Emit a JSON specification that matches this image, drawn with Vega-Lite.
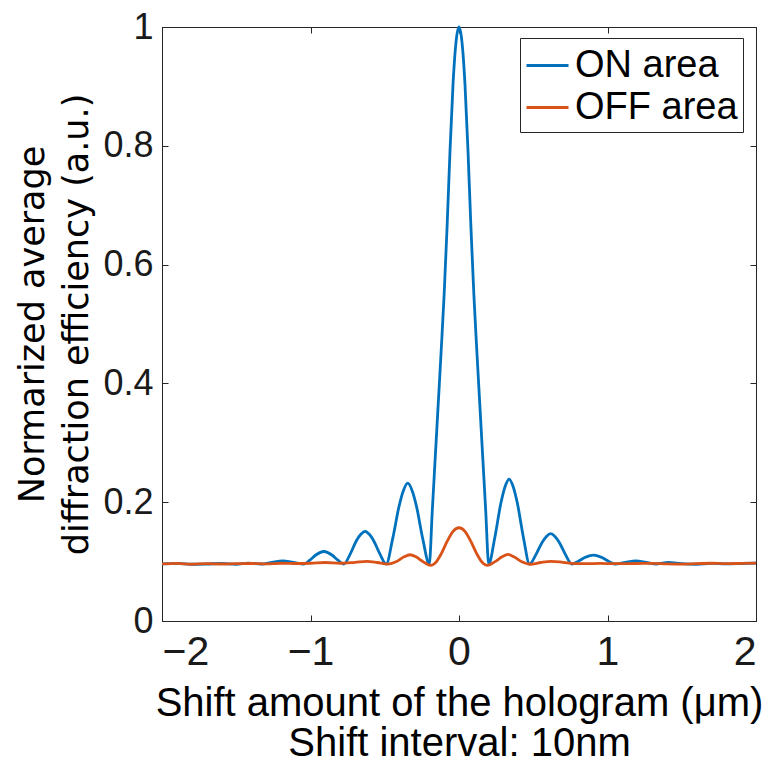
{
  "$schema": "https://vega.github.io/schema/vega-lite/v6.json",
  "width": 594,
  "height": 594,
  "autosize": "none",
  "padding": {"left": 162, "top": 27, "right": 18, "bottom": 141},
  "background": "white",
  "config": {
    "view": {"stroke": "#262626", "strokeWidth": 1},
    "axis": {
      "grid": false,
      "domainColor": "#262626",
      "domainWidth": 1,
      "tickColor": "#262626",
      "tickWidth": 1,
      "tickSize": -6,
      "labelColor": "#1a1a1a",
      "titleColor": "#000000",
      "titleFontWeight": "normal"
    }
  },
  "datasets": {
    "curves": [
      {"x": -2.0, "y": 0.096, "series": "ON area"},
      {"x": -1.9, "y": 0.097, "series": "ON area"},
      {"x": -1.8, "y": 0.0955, "series": "ON area"},
      {"x": -1.7, "y": 0.096, "series": "ON area"},
      {"x": -1.6, "y": 0.0968, "series": "ON area"},
      {"x": -1.5, "y": 0.0955, "series": "ON area"},
      {"x": -1.42, "y": 0.0975, "series": "ON area"},
      {"x": -1.33, "y": 0.096, "series": "ON area"},
      {"x": -1.259, "y": 0.0988, "series": "ON area"},
      {"x": -1.1875, "y": 0.101, "series": "ON area"},
      {"x": -1.116, "y": 0.0988, "series": "ON area"},
      {"x": -1.045, "y": 0.096, "series": "ON area"},
      {"x": -1.0045, "y": 0.1025, "series": "ON area"},
      {"x": -0.964, "y": 0.1111, "series": "ON area"},
      {"x": -0.937, "y": 0.1151, "series": "ON area"},
      {"x": -0.91, "y": 0.117, "series": "ON area"},
      {"x": -0.883, "y": 0.1151, "series": "ON area"},
      {"x": -0.856, "y": 0.1111, "series": "ON area"},
      {"x": -0.8155, "y": 0.1025, "series": "ON area"},
      {"x": -0.775, "y": 0.096, "series": "ON area"},
      {"x": -0.732, "y": 0.113, "series": "ON area"},
      {"x": -0.69, "y": 0.1356, "series": "ON area"},
      {"x": -0.661, "y": 0.146, "series": "ON area"},
      {"x": -0.6325, "y": 0.151, "series": "ON area"},
      {"x": -0.604, "y": 0.146, "series": "ON area"},
      {"x": -0.5755, "y": 0.1356, "series": "ON area"},
      {"x": -0.533, "y": 0.113, "series": "ON area"},
      {"x": -0.49, "y": 0.096, "series": "ON area"},
      {"x": -0.447, "y": 0.1382, "series": "ON area"},
      {"x": -0.403, "y": 0.1939, "series": "ON area"},
      {"x": -0.374, "y": 0.2198, "series": "ON area"},
      {"x": -0.345, "y": 0.232, "series": "ON area"},
      {"x": -0.316, "y": 0.2198, "series": "ON area"},
      {"x": -0.287, "y": 0.1939, "series": "ON area"},
      {"x": -0.244, "y": 0.1382, "series": "ON area"},
      {"x": -0.2, "y": 0.096, "series": "ON area"},
      {"x": -0.18, "y": 0.185, "series": "ON area"},
      {"x": -0.16, "y": 0.275, "series": "ON area"},
      {"x": -0.14, "y": 0.365, "series": "ON area"},
      {"x": -0.12, "y": 0.455, "series": "ON area"},
      {"x": -0.1, "y": 0.55, "series": "ON area"},
      {"x": -0.08, "y": 0.665, "series": "ON area"},
      {"x": -0.06, "y": 0.795, "series": "ON area"},
      {"x": -0.04, "y": 0.905, "series": "ON area"},
      {"x": -0.02, "y": 0.975, "series": "ON area"},
      {"x": 0.0, "y": 1.0, "series": "ON area"},
      {"x": 0.02, "y": 0.975, "series": "ON area"},
      {"x": 0.04, "y": 0.905, "series": "ON area"},
      {"x": 0.06, "y": 0.795, "series": "ON area"},
      {"x": 0.08, "y": 0.665, "series": "ON area"},
      {"x": 0.1, "y": 0.55, "series": "ON area"},
      {"x": 0.12, "y": 0.455, "series": "ON area"},
      {"x": 0.14, "y": 0.365, "series": "ON area"},
      {"x": 0.16, "y": 0.275, "series": "ON area"},
      {"x": 0.18, "y": 0.185, "series": "ON area"},
      {"x": 0.2, "y": 0.096, "series": "ON area"},
      {"x": 0.241, "y": 0.1403, "series": "ON area"},
      {"x": 0.2825, "y": 0.199, "series": "ON area"},
      {"x": 0.31, "y": 0.2261, "series": "ON area"},
      {"x": 0.3375, "y": 0.239, "series": "ON area"},
      {"x": 0.365, "y": 0.2261, "series": "ON area"},
      {"x": 0.3925, "y": 0.199, "series": "ON area"},
      {"x": 0.434, "y": 0.1403, "series": "ON area"},
      {"x": 0.475, "y": 0.096, "series": "ON area"},
      {"x": 0.518, "y": 0.1118, "series": "ON area"},
      {"x": 0.5605, "y": 0.1327, "series": "ON area"},
      {"x": 0.589, "y": 0.1424, "series": "ON area"},
      {"x": 0.6175, "y": 0.147, "series": "ON area"},
      {"x": 0.646, "y": 0.1424, "series": "ON area"},
      {"x": 0.6745, "y": 0.1327, "series": "ON area"},
      {"x": 0.717, "y": 0.1118, "series": "ON area"},
      {"x": 0.76, "y": 0.096, "series": "ON area"},
      {"x": 0.8035, "y": 0.1007, "series": "ON area"},
      {"x": 0.847, "y": 0.1068, "series": "ON area"},
      {"x": 0.876, "y": 0.1097, "series": "ON area"},
      {"x": 0.905, "y": 0.111, "series": "ON area"},
      {"x": 0.934, "y": 0.1097, "series": "ON area"},
      {"x": 0.963, "y": 0.1068, "series": "ON area"},
      {"x": 1.0065, "y": 0.1007, "series": "ON area"},
      {"x": 1.05, "y": 0.096, "series": "ON area"},
      {"x": 1.12, "y": 0.0988, "series": "ON area"},
      {"x": 1.19, "y": 0.101, "series": "ON area"},
      {"x": 1.26, "y": 0.0988, "series": "ON area"},
      {"x": 1.33, "y": 0.096, "series": "ON area"},
      {"x": 1.41, "y": 0.0985, "series": "ON area"},
      {"x": 1.5, "y": 0.0965, "series": "ON area"},
      {"x": 1.6, "y": 0.0955, "series": "ON area"},
      {"x": 1.7, "y": 0.097, "series": "ON area"},
      {"x": 1.8, "y": 0.0962, "series": "ON area"},
      {"x": 1.9, "y": 0.0968, "series": "ON area"},
      {"x": 2.0, "y": 0.0975, "series": "ON area"},
      {"x": -2.0, "y": 0.096, "series": "OFF area"},
      {"x": -1.9, "y": 0.097, "series": "OFF area"},
      {"x": -1.8, "y": 0.0955, "series": "OFF area"},
      {"x": -1.7, "y": 0.0965, "series": "OFF area"},
      {"x": -1.6, "y": 0.096, "series": "OFF area"},
      {"x": -1.5, "y": 0.0965, "series": "OFF area"},
      {"x": -1.4, "y": 0.0968, "series": "OFF area"},
      {"x": -1.3, "y": 0.0962, "series": "OFF area"},
      {"x": -1.2, "y": 0.0972, "series": "OFF area"},
      {"x": -1.1, "y": 0.0968, "series": "OFF area"},
      {"x": -1.0, "y": 0.0972, "series": "OFF area"},
      {"x": -0.9, "y": 0.0985, "series": "OFF area"},
      {"x": -0.8, "y": 0.0972, "series": "OFF area"},
      {"x": -0.7, "y": 0.0988, "series": "OFF area"},
      {"x": -0.62, "y": 0.1005, "series": "OFF area"},
      {"x": -0.55, "y": 0.0985, "series": "OFF area"},
      {"x": -0.48, "y": 0.0958, "series": "OFF area"},
      {"x": -0.42, "y": 0.1, "series": "OFF area"},
      {"x": -0.37, "y": 0.108, "series": "OFF area"},
      {"x": -0.33, "y": 0.1115, "series": "OFF area"},
      {"x": -0.29, "y": 0.108, "series": "OFF area"},
      {"x": -0.24, "y": 0.0995, "series": "OFF area"},
      {"x": -0.19, "y": 0.0935, "series": "OFF area"},
      {"x": -0.16, "y": 0.0975, "series": "OFF area"},
      {"x": -0.12, "y": 0.113, "series": "OFF area"},
      {"x": -0.08, "y": 0.134, "series": "OFF area"},
      {"x": -0.04, "y": 0.151, "series": "OFF area"},
      {"x": 0.0, "y": 0.157, "series": "OFF area"},
      {"x": 0.04, "y": 0.151, "series": "OFF area"},
      {"x": 0.08, "y": 0.134, "series": "OFF area"},
      {"x": 0.12, "y": 0.113, "series": "OFF area"},
      {"x": 0.16, "y": 0.0975, "series": "OFF area"},
      {"x": 0.19, "y": 0.0935, "series": "OFF area"},
      {"x": 0.24, "y": 0.0995, "series": "OFF area"},
      {"x": 0.29, "y": 0.108, "series": "OFF area"},
      {"x": 0.33, "y": 0.112, "series": "OFF area"},
      {"x": 0.37, "y": 0.108, "series": "OFF area"},
      {"x": 0.42, "y": 0.1, "series": "OFF area"},
      {"x": 0.48, "y": 0.0955, "series": "OFF area"},
      {"x": 0.55, "y": 0.0985, "series": "OFF area"},
      {"x": 0.62, "y": 0.1005, "series": "OFF area"},
      {"x": 0.7, "y": 0.0988, "series": "OFF area"},
      {"x": 0.78, "y": 0.0965, "series": "OFF area"},
      {"x": 0.86, "y": 0.0965, "series": "OFF area"},
      {"x": 0.95, "y": 0.097, "series": "OFF area"},
      {"x": 1.05, "y": 0.0965, "series": "OFF area"},
      {"x": 1.2, "y": 0.0968, "series": "OFF area"},
      {"x": 1.3, "y": 0.097, "series": "OFF area"},
      {"x": 1.4, "y": 0.0962, "series": "OFF area"},
      {"x": 1.5, "y": 0.0958, "series": "OFF area"},
      {"x": 1.6, "y": 0.0965, "series": "OFF area"},
      {"x": 1.7, "y": 0.0972, "series": "OFF area"},
      {"x": 1.8, "y": 0.0965, "series": "OFF area"},
      {"x": 1.9, "y": 0.097, "series": "OFF area"},
      {"x": 2.0, "y": 0.0975, "series": "OFF area"}
    ]
  },
  "layer": [
    {
      "data": {"name": "curves"},
      "transform": [{"filter": "datum.series == 'ON area'"}],
      "mark": {"type": "line", "interpolate": "monotone", "strokeWidth": 2.8},
      "encoding": {
        "x": {
          "field": "x", "type": "quantitative",
          "scale": {"domain": [-2, 2], "nice": false},
          "axis": {
            "values": [-2, -1, 0, 1, 2],
            "format": "~g",
            "labelFont": "Liberation Sans",
            "labelFontSize": 41,
            "labelPadding": 17,
            "title": ["Shift amount of the hologram (μm)", "Shift interval: 10nm"],
            "titleFont": "Liberation Sans",
            "titleFontSize": 40,
            "titleLineHeight": 40,
            "titleBaseline": "alphabetic",
            "titleAlign": "center",
            "titleX": 297,
            "titleY": 94
          }
        },
        "y": {
          "field": "y", "type": "quantitative",
          "scale": {"domain": [0, 1], "nice": false, "zero": true},
          "axis": {
            "values": [0, 0.2, 0.4, 0.6, 0.8, 1],
            "format": "~g",
            "labelFont": "Liberation Sans",
            "labelFontSize": 36,
            "labelPadding": 15,
            "title": ["Normarized average", "diffraction efficiency (a.u.)"],
            "titleFont": "DejaVu Sans",
            "titleFontSize": 35,
            "titleLineHeight": 44,
            "titleAngle": -90,
            "titleBaseline": "alphabetic",
            "titleAlign": "center",
            "titleX": -119,
            "titleY": 297
          }
        },
        "color": {
          "field": "series", "type": "nominal",
          "scale": {"domain": ["ON area", "OFF area"], "range": ["#0072BD", "#D95319"]},
          "legend": {
            "title": null,
            "orient": "none",
            "legendX": 358,
            "legendY": 11,
            "symbolType": "stroke",
            "symbolSize": 1764,
            "symbolStrokeWidth": 3,
            "labelFont": "Liberation Sans",
            "labelFontSize": 38,
            "labelColor": "#000000",
            "labelLimit": 400,
            "labelOffset": 5,
            "padding": 5,
            "rowPadding": 0,
            "fillColor": "white",
            "strokeColor": "#262626"
          }
        }
      }
    },
    {
      "data": {"name": "curves"},
      "transform": [{"filter": "datum.series == 'OFF area'"}],
      "mark": {"type": "line", "interpolate": "monotone", "strokeWidth": 2.8},
      "encoding": {
        "x": {"field": "x", "type": "quantitative", "axis": null},
        "y": {"field": "y", "type": "quantitative", "axis": null},
        "color": {"field": "series", "type": "nominal"}
      }
    },
    {
      "data": {"name": "curves"},
      "mark": {"type": "line", "opacity": 0},
      "encoding": {
        "x": {
          "field": "x", "type": "quantitative",
          "axis": {"orient": "top", "values": [-2, -1, 0, 1, 2], "labels": false, "title": null}
        },
        "y": {
          "field": "y", "type": "quantitative",
          "axis": {"orient": "right", "values": [0, 0.2, 0.4, 0.6, 0.8, 1], "labels": false, "title": null}
        },
        "detail": {"field": "series"}
      }
    }
  ],
  "resolve": {"axis": {"x": "independent", "y": "independent"}}
}
